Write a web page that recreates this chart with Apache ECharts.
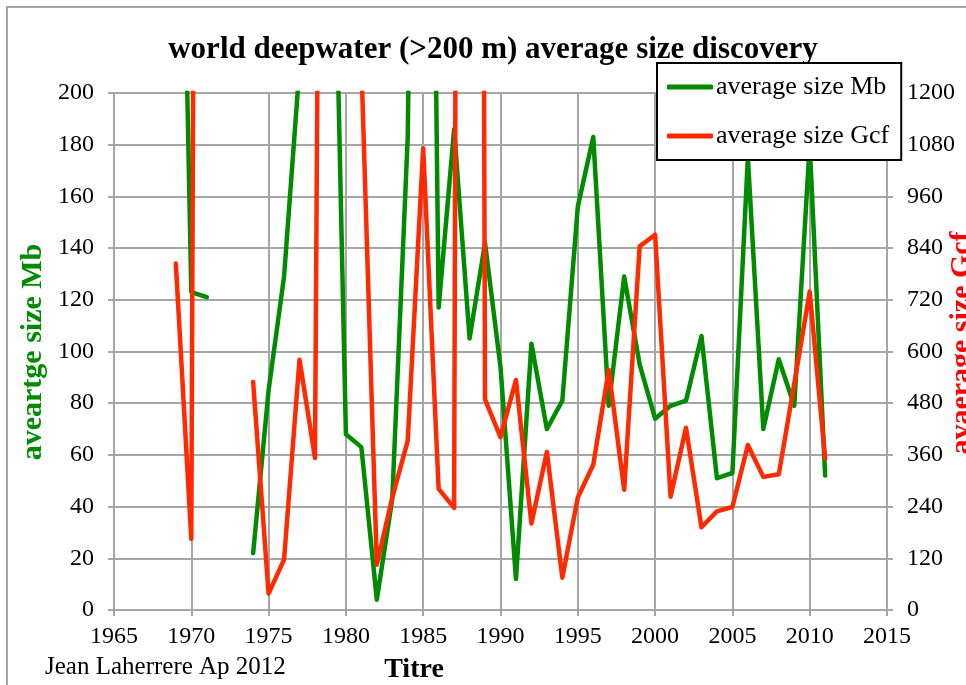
<!DOCTYPE html>
<html>
<head>
<meta charset="utf-8">
<script src="https://cdn.jsdelivr.net/npm/echarts@6/dist/echarts.min.js"></script>
<style>
html,body{margin:0;padding:0;background:#fff;}
#chart{width:966px;height:685px;}
</style>
</head>
<body>
<div id="chart"></div>
<script>
// ---- data ----
var years = [1969,1970,1971,1972,1973,1974,1975,1976,1977,1978,1979,1980,1981,1982,1983,1984,1985,1986,1987,1988,1989,1990,1991,1992,1993,1994,1995,1996,1997,1998,1999,2000,2001,2002,2003,2004,2005,2006,2007,2008,2009,2010,2011];
var sizeMb = [420,123,121,null,null,22,85,129,210,290,343,68,63,4,43,183,640,117,186,105,142,94,12,103,70,81,156,183,79,129,95,74,79,81,106,51,53,175,70,97,79,180,52];
var sizeGcf = [804,165,9000,null,null,529,38,117,581,353,6000,3000,1270,105,261,393,1072,281,237,12000,489,401,534,201,367,75,261,337,557,279,844,871,263,423,192,229,239,383,309,315,525,739,351];
var seriesNames = ['average size Mb','average size Gcf'];
var xTicks = {min:1965, max:2015, interval:5};
var mbTicks = {min:0, max:200, interval:20};
var gcfTicks = {min:0, max:1200, interval:120};
var titleText = 'world deepwater (>200 m) average size discovery';
var leftName = 'aveartge size Mb';
var rightName = 'avaerage size Gcf';
var xName = 'Titre';
var credit = 'Jean Laherrere Ap 2012';

function pairs(vals){ return years.map(function(y,i){ return [y, vals[i]]; }); }
function plain(v){ return String(v); }

var FONT = 'Liberation Serif';
var GREEN = '#008c00', RED = '#ff2a00', GRID = '#a6a6a6';

var chart = echarts.init(document.getElementById('chart'), null, {renderer:'canvas'});
var axisLine = {show:true, lineStyle:{color:GRID, width:2}};
var axisTick = {show:true, inside:false, length:6, lineStyle:{color:GRID, width:2}};
var splitLine = {show:true, lineStyle:{color:GRID, width:2}};
function lbl(margin){ return {margin:margin, fontFamily:FONT, fontSize:24, color:'#000', formatter:plain}; }
chart.setOption({
  animation:false,
  backgroundColor:'#fff',
  grid:{left:114, right:79, top:93, bottom:75, containLabel:false},
  xAxis:{type:'value', min:xTicks.min, max:xTicks.max, interval:xTicks.interval,
    axisLine:axisLine, axisTick:axisTick, splitLine:splitLine, axisLabel:lbl(15)},
  yAxis:[
    {type:'value', position:'left', min:mbTicks.min, max:mbTicks.max, interval:mbTicks.interval,
     axisLine:axisLine, axisTick:axisTick, splitLine:splitLine, axisLabel:lbl(20)},
    {type:'value', position:'right', min:gcfTicks.min, max:gcfTicks.max, interval:gcfTicks.interval,
     axisLine:axisLine, axisTick:axisTick, splitLine:{show:false}, axisLabel:lbl(20)}
  ],
  legend:{
    show:true, orient:'vertical', left:657, top:63,
    backgroundColor:'#fff', borderColor:'#000', borderWidth:2, borderRadius:0,
    padding:[6,12,6,10], itemGap:13, itemWidth:46, itemHeight:5, icon:'roundRect',
    textStyle:{fontFamily:FONT, fontSize:26, color:'#000', lineHeight:30, padding:[6,0,0,-2]},
    data:seriesNames
  },
  series:[
    {name:seriesNames[0], type:'line', yAxisIndex:0, data:pairs(sizeMb), showSymbol:false, symbol:'none',
     connectNulls:false, clip:true, lineStyle:{color:GREEN, width:4.5, cap:'round', join:'round'}, itemStyle:{color:GREEN}, z:2},
    {name:seriesNames[1], type:'line', yAxisIndex:1, data:pairs(sizeGcf), showSymbol:false, symbol:'none',
     connectNulls:false, clip:true, lineStyle:{color:RED, width:4.5, cap:'round', join:'round'}, itemStyle:{color:RED}, z:3}
  ],
  graphic:[
    {type:'polyline', shape:{points:[[7,685],[7,7],[966,7]]}, style:{stroke:GRID, lineWidth:2, fill:null}, silent:true},
    {type:'text', x:493, y:50, style:{text:titleText, font:'bold 31px "Liberation Serif"', fill:'#000', align:'center', verticalAlign:'middle'}},
    {type:'text', x:33, y:352, rotation:Math.PI/2, style:{text:leftName, font:'bold 30px "Liberation Serif"', fill:GREEN, align:'center', verticalAlign:'middle'}},
    {type:'text', x:962, y:343, rotation:Math.PI/2, style:{text:rightName, font:'bold 30px "Liberation Serif"', fill:'#ff0000', align:'center', verticalAlign:'middle'}},
    {type:'text', x:414, y:670, style:{text:xName, font:'bold 28px "Liberation Serif"', fill:'#000', align:'center', verticalAlign:'middle'}},
    {type:'text', x:45, y:667, style:{text:credit, font:'25px "Liberation Serif"', fill:'#000', align:'left', verticalAlign:'middle'}}
  ]
});
</script>
</body>
</html>
